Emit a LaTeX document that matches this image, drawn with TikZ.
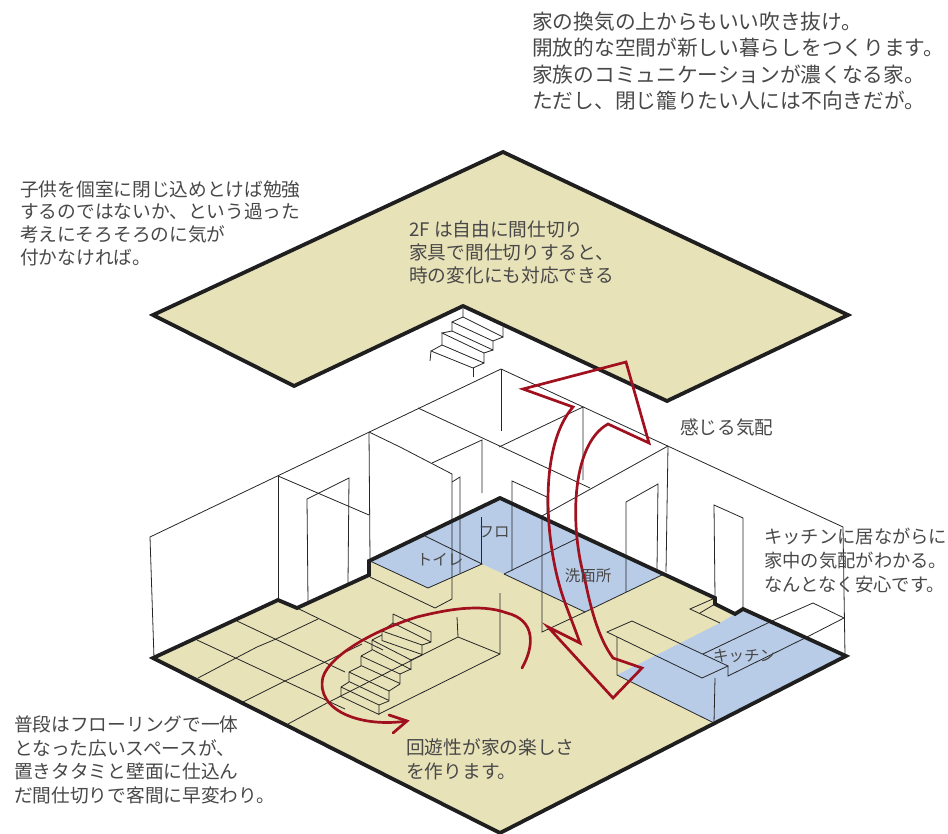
\documentclass[tikz,border=0pt]{standalone}
\usepackage{fontspec}
\setmainfont{Noto Sans CJK JP}
\definecolor{floorbeige}{HTML}{E8E2B8}
\definecolor{floorblue}{HTML}{B8CCE8}
\definecolor{flowred}{HTML}{A0101E}
\definecolor{notegray}{HTML}{484848}
\begin{document}
\begin{tikzpicture}[x=1pt,y=-1pt,
	wall/.style={draw=black!85,line width=0.8pt},
	edgeline/.style={draw=black!88,line width=3.8pt},
	flow/.style={draw=flowred,line width=2.7pt},
	note/.style={anchor=west,align=left,inner sep=0pt,text=notegray},
	roomlabel/.style={inner sep=0pt,text=notegray,font=\fontsize{15.5}{18}\selectfont}]
		\useasboundingbox (0,0) rectangle (948,834);
		
		\fill[floorbeige] (153,658)--(278,600)--(297,608)--(369,575)--(369,561)--(500,498)--(715,598)--(715,604)--(735,614)--(743,609)--(846,656)--(500,833)--cycle;
		\fill[floorblue] (370,561)--(428,588)--(482,564)--(504,574)--(585,612)--(664,574)--(500,498)--cycle;
		\fill[floorblue] (617,675)--(720,623)--(735,614)--(743,609)--(846,656)--(714,723)--cycle;
		
		\draw[wall] (154,658)--(150,537)--(501,369)--(843,527)--(845,655);
		\draw[wall] (278,476)--(278,599);
		\draw[wall] (278,476)--(369,515);
		\draw[wall] (308,602)--(307,499)--(349,478)--(348,583);
		\draw[wall] (369,432)--(370,560);
		\draw[wall] (369,432)--(400,447)--(452,474)--(452,599)--(435,608)--(370,577);
		\draw[wall] (452,482)--(460,477)--(460,573);
		\draw[wall] (501,369)--(501,431);
		\draw[wall] (418,408)--(590,488);
		\draw[wall] (432,463)--(482,440)--(482,493);
		\draw[wall] (499,447)--(583,407)--(583,480);
		\draw[wall] (668,446)--(666,572);
		\draw[wall] (668,446)--(542,516)--(542,632)--(585,612);
		\draw[wall] (512,571)--(512,481)--(547,497)--(547,513);
		\draw[wall] (504,574)--(578,538);
		\draw[wall] (481,517)--(481,564);
		\draw[wall] (425,536)--(482,564)--(428,588)--(370,561);
		\draw[wall] (504,574)--(585,612)--(664,574);
		\draw[wall] (626,592)--(626,502)--(658,484)--(657,570);
		\draw[wall] (715,597)--(714,505)--(743,518)--(743,608);
		
		\draw[wall] (197,640)--(345,709);
		\draw[wall] (237,621)--(345,672);
		\draw[wall] (297,608)--(383,650);
		\draw[wall] (198,678)--(236,658)--(257,647)--(276,639)--(318,619);
		\draw[wall] (243,702)--(285,681)--(325,662)--(362,644);
		\draw[wall] (288,724)--(327,703)--(422,655);
		
		\draw[wall] (500,593)--(500,654)--(379,714);
		\draw[wall] (457,617)--(458,637)--(500,654);
		\draw[wall] (458,637)--(422,655);
		\foreach \ax/\ay/\bx/\by/\nx/\ny/\mx/\my in {
			341/687/379/705/349/682/389/701,
			349/672/389/691/361/666/400/684,
			361/656/400/674/372/650/411/669,
			372/640/411/660/382/635/422/655,
			382/631/422/645/393/623/431/642}{
			\draw[wall] (\ax,\ay)--(\bx,\by) (\ax,\ay)--(\ax,\ay+9.5)--(\bx,\by+9.5)--(\bx,\by);
			\draw[wall] (\ax,\ay)--(\nx,\ny) (\bx,\by)--(\mx,\my);
		}
		\draw[wall] (393,614)--(431,632)--(431,642) (393,614)--(393,623)--(431,642);
		
		\draw[wall] (607,632)--(632,621)--(728,666)--(702,678)--cycle;
		\draw[wall] (617,637)--(617,675)--(714,723)--(715,678);
		\draw[wall] (728,666)--(728,676)--(807,637)--(844,618)--(813,603)--(772,621)--(703,654);
		\draw[wall] (715,598)--(690,609)--(720,623);
		\draw[wall] (700,613)--(715,604);
		
		\draw[edgeline] (153,658)--(278,600)--(297,608)--(369,575)--(369,561)--(500,498)--(715,598)--(715,604)--(735,614)--(743,609)--(846,656)--(500,833)--cycle;
		
		\draw[edgeline,fill=floorbeige] (503,152)--(848,315)--(667,401)--(463,306)--(294,386)--(153,315)--cycle;
		
		\draw[wall] (463,306)--(463,317)--(503,337)--(503,327);
		\draw[wall] (463,317)--(452,322)--(493,341)--(503,337);
		\draw[wall] (452,322)--(452,331)--(493,350)--(493,341);
		\draw[wall] (452,331)--(442,333)--(484,353)--(493,350);
		\draw[wall] (442,333)--(442,345)--(484,363)--(484,353);
		\draw[wall] (442,345)--(431,351)--(473,368)--(484,363);
		\draw[wall] (431,351)--(430,361);
		\draw[wall] (473,368)--(473,377);
		
		\draw[flow,line join=miter] (523,389)--(626,362)--(649,443)--(608,424)
			.. controls (570,445) and (570,530) .. (585,580)
			.. controls (592,615) and (600,640) .. (613,658)
			--(642,668)--(613,698)--(548,627)--(580,643)
			.. controls (570,615) and (563,600) .. (558,580)
			.. controls (545,530) and (540,445) .. (573,407)--cycle;
		\draw[flow,line cap=round] (522,668) .. controls (535,645) and (535,620) .. (507,613)
			.. controls (480,603) and (445,610) .. (417,617)
			.. controls (375,630) and (330,655) .. (323,677)
			.. controls (315,710) and (360,728) .. (407,721);
		\draw[flow,line cap=round] (389,715)--(407,721)--(393,733);
		
		\node [at= {(532,61)}, note, font=\fontsize{20.7}{26.5}\selectfont] (airnote) {家の換気の上からもいい吹き抜け。\\開放的な空間が新しい暮らしをつくります。\\家族のコミュニケーションが濃くなる家。\\ただし、閉じ籠りたい人には不向きだが。};
		\node [at= {(20,223)}, note, font=\fontsize{18.7}{22.7}\selectfont] (childnote) {子供を個室に閉じ込めとけば勉強\\するのではないか、という過った\\考えにそろそろのに気が\\付かなければ。};
		\node [at= {(409,252)}, note, font=\fontsize{18.7}{23}\selectfont] (upstairsnote) {2F は自由に間仕切り\\家具で間仕切りすると、\\時の変化にも対応できる};
		\node [at= {(680,427)}, note, font=\fontsize{18.6}{23}\selectfont] (sensenote) {感じる気配};
		\node [at= {(764,561)}, note, font=\fontsize{18.3}{24}\selectfont] (kitchennote) {キッチンに居ながらに\\家中の気配がわかる。\\なんとなく安心です。};
		\node [at= {(14,760)}, note, font=\fontsize{18.7}{23.5}\selectfont] (floornote) {普段はフローリングで一体\\となった広いスペースが、\\置きタタミと壁面に仕込ん\\だ間仕切りで客間に早変わり。};
		\node [at= {(406,759)}, note, font=\fontsize{18.7}{24}\selectfont] (loopnote) {回遊性が家の楽しさ\\を作ります。};
		
		\node [at= {(440,560)}, roomlabel] (toilet) {トイレ};
		\node [at= {(494,532)}, roomlabel] (bath) {フロ};
		\node [at= {(588,576)}, roomlabel] (washroom) {洗面所};
		\node [at= {(744,656)}, roomlabel] (kitchen) {キッチン};
		\end{tikzpicture}
\end{document}
